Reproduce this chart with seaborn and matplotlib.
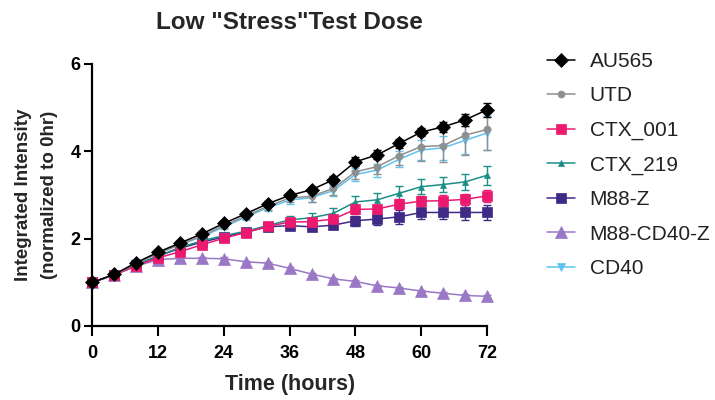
import matplotlib
matplotlib.use("Agg")
import matplotlib.pyplot as plt
import seaborn as sns
import numpy as np

sns.set_theme(style="white")
plt.rcParams['font.family'] = ['Liberation Sans', 'DejaVu Sans']

hours = [0, 4, 8, 12, 16, 20, 24, 28, 32, 36, 40, 44, 48, 52, 56, 60, 64, 68, 72]

au565 = [1.00, 1.18, 1.45, 1.69, 1.90, 2.11, 2.35, 2.57, 2.80, 2.99, 3.12, 3.35, 3.76, 3.92, 4.18, 4.44, 4.56, 4.72, 4.95]
utd = [1.00, 1.17, 1.43, 1.66, 1.86, 2.06, 2.30, 2.52, 2.74, 2.93, 2.97, 3.15, 3.53, 3.65, 3.90, 4.11, 4.13, 4.37, 4.50]
ctx_001 = [1.00, 1.17, 1.38, 1.56, 1.70, 1.86, 2.01, 2.14, 2.28, 2.38, 2.39, 2.45, 2.67, 2.68, 2.79, 2.86, 2.87, 2.90, 2.98]
ctx_219 = [1.00, 1.17, 1.40, 1.60, 1.80, 1.95, 2.07, 2.17, 2.30, 2.43, 2.48, 2.58, 2.84, 2.89, 3.04, 3.19, 3.24, 3.30, 3.45]
m88_z = [1.00, 1.17, 1.40, 1.60, 1.78, 1.92, 2.04, 2.15, 2.27, 2.30, 2.27, 2.31, 2.41, 2.45, 2.50, 2.60, 2.60, 2.60, 2.60]
m88_cd40_z = [1.00, 1.17, 1.37, 1.52, 1.55, 1.55, 1.54, 1.47, 1.44, 1.32, 1.19, 1.08, 1.02, 0.92, 0.87, 0.80, 0.75, 0.70, 0.68]
cd40 = [1.00, 1.17, 1.44, 1.68, 1.87, 2.04, 2.27, 2.49, 2.71, 2.88, 2.94, 3.10, 3.47, 3.57, 3.82, 4.03, 4.08, 4.25, 4.42]

# error bars (SD)
au565_err = [0.02, 0.02, 0.03, 0.03, 0.04, 0.04, 0.05, 0.05, 0.06, 0.06, 0.07, 0.08, 0.10, 0.10, 0.10, 0.10, 0.11, 0.14, 0.16]
utd_err = [0.02, 0.02, 0.03, 0.04, 0.05, 0.05, 0.06, 0.07, 0.08, 0.09, 0.12, 0.15, 0.17, 0.18, 0.22, 0.32, 0.38, 0.45, 0.48]
ctx_001_err = [0.02, 0.02, 0.03, 0.03, 0.04, 0.04, 0.05, 0.05, 0.06, 0.06, 0.07, 0.08, 0.10, 0.10, 0.11, 0.12, 0.12, 0.13, 0.14]
ctx_219_err = [0.02, 0.02, 0.03, 0.03, 0.04, 0.04, 0.05, 0.06, 0.07, 0.08, 0.10, 0.12, 0.14, 0.15, 0.16, 0.17, 0.17, 0.18, 0.22]
m88_z_err = [0.02, 0.02, 0.03, 0.03, 0.04, 0.04, 0.05, 0.05, 0.06, 0.07, 0.08, 0.10, 0.12, 0.13, 0.16, 0.14, 0.14, 0.18, 0.17]
m88_cd40_z_err = [0.02, 0.02, 0.02, 0.02, 0.03, 0.03, 0.03, 0.03, 0.03, 0.03, 0.03, 0.03, 0.03, 0.03, 0.03, 0.03, 0.03, 0.03, 0.03]
cd40_err = [0.02, 0.02, 0.03, 0.04, 0.05, 0.05, 0.06, 0.07, 0.08, 0.09, 0.10, 0.12, 0.14, 0.15, 0.18, 0.22, 0.28, 0.32, 0.38]

series = [
    ('AU565', au565, au565_err, '#000000', 'D', 7.0),
    ('UTD', utd, utd_err, '#8f8f8f', 'o', 5.0),
    ('CTX_001', ctx_001, ctx_001_err, '#ec1a6f', 's', 6.5),
    ('CTX_219', ctx_219, ctx_219_err, '#1b8e87', '^', 5.0),
    ('M88-Z', m88_z, m88_z_err, '#3f2a86', 's', 7.5),
    ('M88-CD40-Z', m88_cd40_z, m88_cd40_z_err, '#9a78c6', '^', 8.0),
    ('CD40', cd40, cd40_err, '#5ec3ee', 'v', 6.0),
]

fig = plt.figure(figsize=(7.15, 4.0), dpi=100)
ax = fig.add_axes([0.129, 0.185, 0.552, 0.655])

# first data set drawn on top, like the original
for i, (name, vals, err, color, marker, ms) in enumerate(reversed(series)):
    z = 3 + i
    ax.errorbar(hours, vals, yerr=err, fmt='none', ecolor=color, elinewidth=1.0,
                capsize=3, capthick=1.0, zorder=z, clip_on=False)
    sns.lineplot(x=hours, y=vals, ax=ax, color=color, marker=marker, markersize=ms,
                 markeredgewidth=0.5, markeredgecolor=color, linewidth=1.1,
                 label=name, zorder=z, clip_on=False)

ax.set_xlim(0, 72)
ax.set_ylim(0, 6)
ax.set_xticks([0, 12, 24, 36, 48, 60, 72])
ax.set_yticks([0, 2, 4, 6])

for side in ['top', 'right']:
    ax.spines[side].set_visible(False)
for side in ['left', 'bottom']:
    ax.spines[side].set_linewidth(1.6)
    ax.spines[side].set_color('black')
ax.tick_params(axis='x', direction='out', length=7, width=1.5, colors='black',
               labelsize=13, pad=7, bottom=True)
ax.tick_params(axis='y', direction='out', length=6, width=1.5, colors='black',
               labelsize=13, pad=2.5, left=True)
for lbl in ax.get_xticklabels() + ax.get_yticklabels():
    lbl.set_fontweight('bold')

ax.set_title('Low "Stress"Test Dose', fontsize=17.5, fontweight='bold', pad=25)
ax.set_xlabel('Time (hours)', fontsize=15.5, fontweight='bold', labelpad=8)
ax.set_ylabel('Integrated Intensity\n(normalized to 0hr)', fontsize=13.5,
              fontweight='bold', labelpad=9, linespacing=1.65)

handles, labels = ax.get_legend_handles_labels()
order = [labels.index(s[0]) for s in series]
ax.legend([handles[k] for k in order], [labels[k] for k in order],
          loc='upper left', bbox_to_anchor=(0.765, 0.87), bbox_transform=fig.transFigure,
          frameon=False, fontsize=15, labelspacing=0.74, handlelength=1.35,
          handletextpad=0.7, borderpad=0, borderaxespad=0, labelcolor='#222222')

fig.savefig('out.png', dpi=100)
